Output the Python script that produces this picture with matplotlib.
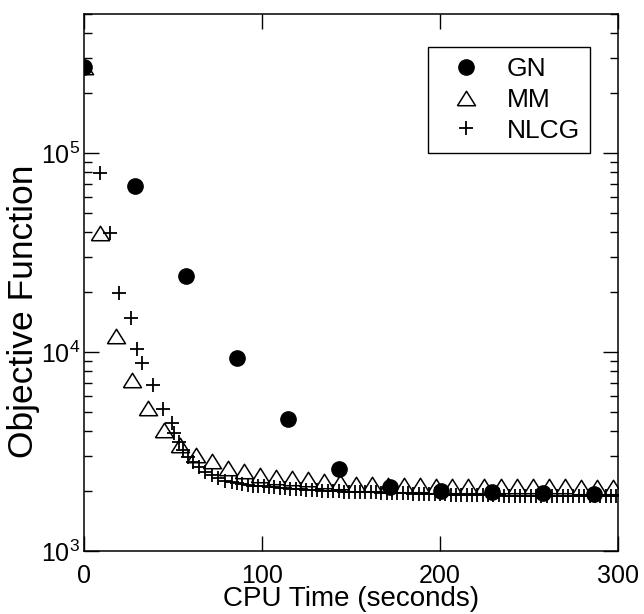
import numpy as np
import matplotlib
matplotlib.use("Agg")
import matplotlib.pyplot as plt

plt.rcParams['font.family'] = ['Liberation Sans', 'DejaVu Sans']
plt.rcParams['mathtext.fontset'] = 'custom'
plt.rcParams['mathtext.rm'] = 'Liberation Sans'
plt.rcParams['mathtext.it'] = 'Liberation Sans:italic'

# Gauss-Newton
gn_time = [0, 28.7, 57.3, 86.0, 114.6, 143.3, 171.9, 200.6, 229.2, 257.9, 286.5]
gn_obj = [2.7e5, 6.8e4, 2.4e4, 9.3e3, 4.6e3, 2.58e3, 2.09e3, 2.0e3, 1.98e3, 1.96e3, 1.94e3]

# MM
mm_time = [0, 9, 18, 27, 36, 45, 54, 63, 72, 81, 90, 99, 108, 117, 126, 135, 144,
           153, 162, 171, 180, 189, 198, 207, 216, 225, 234, 243, 252, 261, 270,
           279, 288, 297]
mm_obj = [2.7e5, 3.96e4, 1.21e4, 7.26e3, 5.22e3, 4.04e3, 3.4e3, 3.05e3, 2.82e3,
          2.62e3, 2.52e3, 2.41e3, 2.36e3, 2.32e3, 2.29e3, 2.25e3, 2.21e3, 2.18e3,
          2.16e3, 2.15e3, 2.14e3, 2.14e3, 2.13e3, 2.13e3, 2.12e3, 2.12e3, 2.12e3,
          2.11e3, 2.11e3, 2.11e3, 2.11e3, 2.10e3, 2.10e3, 2.10e3]

# NLCG
nlcg_time = [0, 9.0, 14.6, 19.8, 26.4, 29.9, 32.8, 38.6, 44.6, 49.2, 50.8, 53.5,
             55.6, 58.4, 61.2, 64.6, 68.0, 71.7, 75.3, 79.2, 83.0,
             86, 89, 92, 95, 98, 101, 104, 107, 110, 113, 116, 119, 122, 125,
             128, 131, 134, 137, 140, 143, 146, 149, 152, 155, 158, 161, 164,
             167, 170, 173, 176, 179, 182, 185, 188, 191, 194, 197, 200, 203,
             206, 209, 212, 215, 218, 221, 224, 227, 230, 233, 236, 239, 242,
             245, 248, 251, 254, 257, 260, 263, 266, 269, 272, 275, 278, 281,
             284, 287, 290, 293, 296, 299]
nlcg_obj = [2.7e5, 7.97e4, 3.97e4, 1.98e4, 1.48e4, 1.04e4, 8.8e3, 6.8e3, 5.2e3,
            4.38e3, 3.91e3, 3.53e3, 3.21e3, 2.97e3, 2.80e3, 2.64e3, 2.49e3,
            2.40e3, 2.32e3, 2.26e3, 2.22e3,
            2.19e3, 2.17e3, 2.15e3, 2.13e3, 2.12e3, 2.11e3, 2.10e3, 2.09e3,
            2.08e3, 2.07e3, 2.06e3, 2.05e3, 2.04e3, 2.03e3, 2.03e3, 2.02e3,
            2.01e3, 2.01e3, 2.00e3, 2.00e3, 1.99e3, 1.99e3, 1.98e3, 1.98e3,
            1.97e3, 1.97e3, 1.97e3, 1.96e3, 1.96e3, 1.96e3, 1.95e3, 1.95e3,
            1.95e3, 1.94e3, 1.94e3, 1.94e3, 1.93e3, 1.93e3, 1.93e3, 1.93e3,
            1.92e3, 1.92e3, 1.92e3, 1.92e3, 1.91e3, 1.91e3, 1.91e3, 1.91e3,
            1.91e3, 1.91e3, 1.90e3, 1.90e3, 1.90e3, 1.90e3, 1.90e3, 1.90e3,
            1.90e3, 1.90e3, 1.90e3, 1.89e3, 1.89e3, 1.89e3, 1.89e3, 1.89e3,
            1.89e3, 1.89e3, 1.89e3, 1.89e3, 1.89e3, 1.89e3, 1.89e3, 1.89e3]

# flattened open triangle like the original
tri = [(-1, -0.8), (1, -0.8), (0, 0.8), (-1, -0.8)]

fig = plt.figure(figsize=(6.44, 6.14), dpi=100)
ax = fig.add_axes([0.1304, 0.1026, 0.8292, 0.8746])

ax.plot(gn_time, gn_obj, linestyle='none', marker='o', ms=11, color='black',
        label='GN', zorder=3)
ax.plot(mm_time, mm_obj, linestyle='none', marker=tri, ms=13, mfc='white',
        mec='black', mew=1.1, label='MM', zorder=2)
ax.plot(nlcg_time, nlcg_obj, linestyle='none', marker='+', ms=10, mew=1.3,
        color='black', label='NLCG', zorder=4)

ax.set_yscale('log')
ax.set_xlim(0, 300)
ax.set_ylim(1e3, 5e5)
ax.set_xticks([0, 100, 200, 300])

ax.tick_params(which='both', direction='in', top=True, right=True, width=1.0)
ax.tick_params(which='major', length=11, labelsize=18)
ax.tick_params(axis='x', pad=9)
ax.tick_params(axis='y', pad=3)
ax.tick_params(which='minor', length=6)
for s in ax.spines.values():
    s.set_linewidth(1.1)

ax.set_xlabel('CPU Time (seconds)', fontsize=20, labelpad=-1)
ax.set_ylabel('Objective Function', fontsize=25.5)
ax.yaxis.set_label_coords(-0.082, 0.447)

leg = ax.legend(loc='upper right', bbox_to_anchor=(0.948, 0.939), fontsize=19,
                fancybox=False, edgecolor='black', framealpha=1,
                handlelength=2.1, handletextpad=0.47, labelspacing=0.25,
                borderpad=0.4, borderaxespad=0)
leg.get_frame().set_linewidth(1.0)

plt.savefig('out.png', dpi=100)
